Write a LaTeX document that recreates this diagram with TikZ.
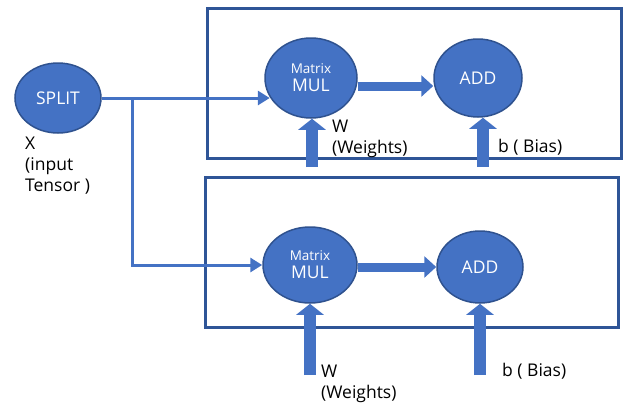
\documentclass[tikz,border=0pt]{standalone}
\usepackage{fontspec}
\setmainfont{Open Sans}
\usetikzlibrary{shapes.geometric,arrows.meta,calc}
\definecolor{nodeblue}{HTML}{4472C4}
\definecolor{edgeblue}{HTML}{2F528F}
\definecolor{boxblue}{HTML}{2F5597}
\begin{document}
\begin{tikzpicture}[x=1pt,y=-1pt,
  op/.style={ellipse, fill=nodeblue, draw=edgeblue, line width=1.5pt, text=white, inner sep=0pt, align=center, font=\fontsize{17.5}{18}\selectfont},
  frame/.style={draw=boxblue, line width=3pt, inner sep=0pt},
  thinarrow/.style={draw=nodeblue, line width=3pt, -{Triangle[length=12pt,width=14pt]}},
  fatH/.style={draw=nodeblue, line width=9pt, -{Triangle[length=12pt,width=21pt]}},
  fatV/.style={draw=nodeblue, line width=12pt, -{Triangle[length=11pt,width=27pt]}},
  lbl/.style={anchor=north west, inner sep=0pt, align=left, font=\fontsize{17.5}{21}\selectfont}
]
\useasboundingbox (0,0) rectangle (624,402);

% frames
\node[frame, minimum width=414pt, minimum height=150pt] (box1) at (414,83) {};
\node[frame, minimum width=413pt, minimum height=150pt] (box2) at (411.5,252) {};

% operation nodes
\node[op, minimum width=86pt, minimum height=70pt] (split) at (58,98) {SPLIT};
\node[op, minimum width=92pt, minimum height=80pt] (mul1) at (311,78) {{\fontsize{13.5}{15}\selectfont Matrix}\\MUL};
\node[op, minimum width=88pt, minimum height=78pt] (add1) at (478,78) {ADD};
\node[op, minimum width=94pt, minimum height=76pt] (mul2) at (310,265) {{\fontsize{13.5}{15}\selectfont Matrix}\\MUL};
\node[op, minimum width=86pt, minimum height=72pt] (add2) at (480,267) {ADD};

% thin input connectors
\coordinate (br) at ($(split.east)+(31,0)$);
\draw[thinarrow] (split.east) -- (split.east -| mul1.205);
\draw[thinarrow] (br) |- (mul2.west);

% fat horizontal arrows
\coordinate (m1) at ($(mul1.east)+(0,8)$);
\coordinate (m2) at ($(mul2.east)+(0,2)$);
\draw[fatH] (m1) -- (m1 -| add1.west);
\draw[fatH] (m2) -- (m2 -| add2.west);

% fat vertical arrows
\coordinate (w1) at (312,167);
\coordinate (b1) at (483,167);
\coordinate (w2) at (310,375);
\coordinate (b2) at (480,375);
\draw[fatV] (w1) -- (w1 |- mul1.south);
\draw[fatV] (b1) -- (b1 |- add1.south);
\draw[fatV] (w2) -- (w2 |- mul2.south);
\draw[fatV] (b2) -- (b2 |- add2.south);

% labels
\node[lbl] (xlbl) at (25,137) {X\\(input\\Tensor )};
\node[lbl] (wlbl1) at (332,120) {W\\(Weights)};
\node[lbl, anchor=base west] (blbl1) at (498,152) {b ( Bias)};
\node[lbl] (wlbl2) at (321,365) {W\\(Weights)};
\node[lbl, anchor=base west] (blbl2) at (502,376) {b ( Bias)};
\end{tikzpicture}
\end{document}
